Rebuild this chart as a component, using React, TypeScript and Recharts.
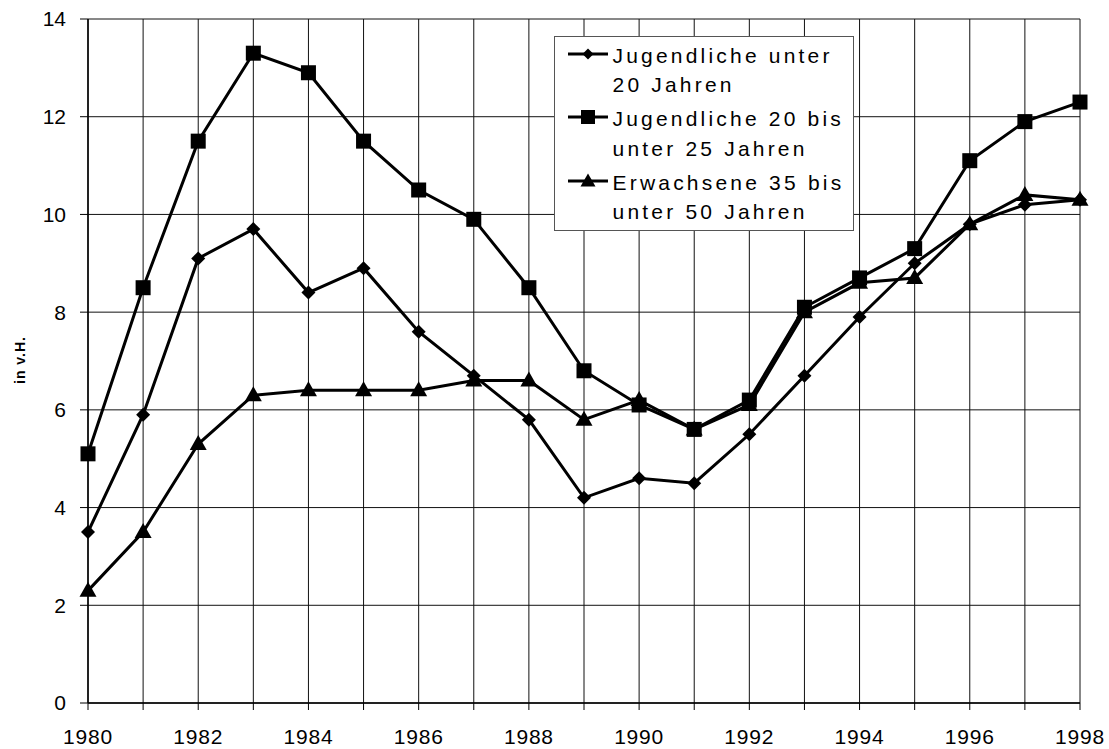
import React from 'react';
import { LineChart, Line, XAxis, YAxis, CartesianGrid } from 'recharts';

const years = [1980, 1981, 1982, 1983, 1984, 1985, 1986, 1987, 1988, 1989, 1990, 1991, 1992, 1993, 1994, 1995, 1996, 1997, 1998];
const unter20 = [3.5, 5.9, 9.1, 9.7, 8.4, 8.9, 7.6, 6.7, 5.8, 4.2, 4.6, 4.5, 5.5, 6.7, 7.9, 9.0, 9.8, 10.2, 10.3];
const von20bis25 = [5.1, 8.5, 11.5, 13.3, 12.9, 11.5, 10.5, 9.9, 8.5, 6.8, 6.1, 5.6, 6.2, 8.1, 8.7, 9.3, 11.1, 11.9, 12.3];
const von35bis50 = [2.3, 3.5, 5.3, 6.3, 6.4, 6.4, 6.4, 6.6, 6.6, 5.8, 6.2, 5.6, 6.1, 8.0, 8.6, 8.7, 9.8, 10.4, 10.3];
const yTicks = [0, 2, 4, 6, 8, 10, 12, 14];
const seriesNames = ['Jugendliche unter 20 Jahren', 'Jugendliche 20 bis unter 25 Jahren', 'Erwachsene 35 bis unter 50 Jahren'];
const legendLines = [
  ['Jugendliche unter', '20 Jahren'],
  ['Jugendliche 20 bis', 'unter 25 Jahren'],
  ['Erwachsene 35 bis', 'unter 50 Jahren'],
];

const data = years.map((y, i) => ({ year: y, a: unter20[i], b: von20bis25[i], c: von35bis50[i] }));

const FONT = '"Liberation Sans", Arial, sans-serif';

const DiamondDot = (props: any) => {
  const { cx, cy, index } = props;
  if (cx == null || cy == null) return null;
  const r = 7;
  return <path key={`d-${index}`} d={`M${cx},${cy - r}L${cx + r},${cy}L${cx},${cy + r}L${cx - r},${cy}Z`} fill="#000" />;
};
const SquareDot = (props: any) => {
  const { cx, cy, index } = props;
  if (cx == null || cy == null) return null;
  const s = 15;
  return <rect key={`s-${index}`} x={cx - s / 2} y={cy - s / 2} width={s} height={s} fill="#000" />;
};
const TriangleDot = (props: any) => {
  const { cx, cy, index } = props;
  if (cx == null || cy == null) return null;
  return <path key={`t-${index}`} d={`M${cx},${cy - 9}L${cx + 8.5},${cy + 6}L${cx - 8.5},${cy + 6}Z`} fill="#000" />;
};

const LegendIcon = ({ kind }: { kind: number }) => (
  <svg width={40} height={20} style={{ display: 'block' }}>
    <line x1={0} y1={10} x2={40} y2={10} stroke="#000" strokeWidth={3} />
    {kind === 0 && <path d="M20,4.5L25.5,10L20,15.5L14.5,10Z" fill="#000" />}
    {kind === 1 && <rect x={13} y={3} width={14} height={14} fill="#000" />}
    {kind === 2 && <path d="M20,2.5L27.5,15.5L12.5,15.5Z" fill="#000" />}
  </svg>
);

export default function App() {
  return (
    <div style={{ position: 'absolute', left: 0, top: 0, width: 1109, height: 749, background: '#fff' }}>
      <LineChart width={1109} height={749} data={data} margin={{ top: 19, right: 29, bottom: 10, left: 30 }}>
        <CartesianGrid stroke="#111" strokeWidth={1} verticalValues={years} horizontalValues={yTicks} />
        <XAxis
          dataKey="year"
          type="number"
          domain={[1980, 1998]}
          ticks={years}
          interval={0}
          height={36}
          tickFormatter={(v: number) => (v % 2 === 0 ? String(v) : '')}
          tick={{ fill: '#000', fontSize: 21, fontFamily: FONT, letterSpacing: 0.8 }}
          tickSize={7}
          tickMargin={19}
          stroke="#000"
          axisLine={{ stroke: '#000', strokeWidth: 1.5 }}
        />
        <YAxis
          type="number"
          domain={[0, 14]}
          ticks={yTicks}
          interval={0}
          width={58}
          tick={{ fill: '#000', fontSize: 21, fontFamily: FONT }}
          tickSize={8}
          tickMargin={14}
          stroke="#000"
          axisLine={{ stroke: '#000', strokeWidth: 1.5 }}
          label={{
            content: () => (
              <text transform="translate(25,360) rotate(-90)" textAnchor="middle" fontSize={14} fontWeight="bold" letterSpacing={1} fontFamily={FONT} fill="#000">
                in v.H.
              </text>
            ),
          }}
        />
        <Line name={seriesNames[0]} dataKey="a" stroke="#000" strokeWidth={3} dot={DiamondDot} activeDot={false} isAnimationActive={false} />
        <Line name={seriesNames[1]} dataKey="b" stroke="#000" strokeWidth={3} dot={SquareDot} activeDot={false} isAnimationActive={false} />
        <Line name={seriesNames[2]} dataKey="c" stroke="#000" strokeWidth={3} dot={TriangleDot} activeDot={false} isAnimationActive={false} />
      </LineChart>
      <div
        style={{
          position: 'absolute',
          left: 554,
          top: 36,
          width: 300,
          height: 195,
          boxSizing: 'border-box',
          border: '1.5px solid #555',
          background: '#fff',
          fontFamily: FONT,
          fontSize: 21,
          letterSpacing: 3.2,
          color: '#000',
        }}
      >
        {legendLines.map((lines, i) => (
          <div key={i} style={{ position: 'absolute', left: 0, top: 3.5 + i * 63.5, width: 296, height: 60 }}>
            <div style={{ position: 'absolute', left: 12.5, top: 3 }}>
              <LegendIcon kind={i} />
            </div>
            <div style={{ position: 'absolute', left: 57.5, top: 0, lineHeight: '29.7px', whiteSpace: 'nowrap' }}>
              <div>{lines[0]}</div>
              <div>{lines[1]}</div>
            </div>
          </div>
        ))}
      </div>
    </div>
  );
}
